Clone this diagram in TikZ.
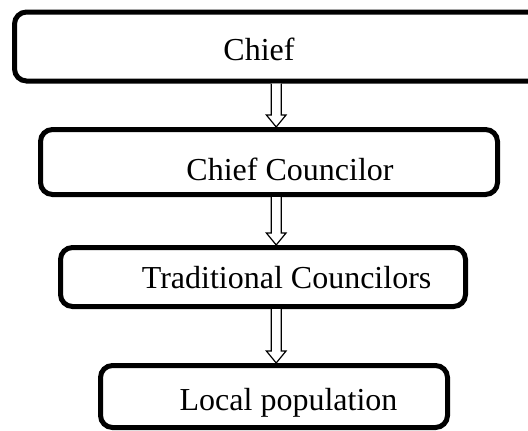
\documentclass[tikz,border=0pt]{standalone}
\usepackage{fontspec}
\setmainfont{Liberation Serif}
\usetikzlibrary{calc}
\tikzset{
  boxnode/.style={draw=black, line width=5pt, rounded corners=12pt, fill=none, inner sep=0pt, outer sep=0.5\pgflinewidth},
  labeltext/.style={inner sep=0pt, anchor=base, font=\fontsize{32}{38}\selectfont},
  hollowarrow/.style={draw=black, line width=1.2pt, line join=miter, fill=white},
}
\begin{document}
\begin{tikzpicture}[x=1pt, y=-1pt]
\useasboundingbox (0,0) rectangle (528,431);
\clip (0,0) rectangle (528,431);
\node[boxnode, minimum width=530.5pt, minimum height=69pt] (b1) at (279.75,46.5) {};
\node[boxnode, minimum width=457pt, minimum height=65pt] (b2) at (269,162) {};
\node[boxnode, minimum width=405pt, minimum height=59pt] (b3) at (263,277) {};
\node[boxnode, minimum width=347pt, minimum height=62pt] (b4) at (274,396.5) {};
\node[labeltext] (t1) at (259,60.6) {Chief};
\node[labeltext] (t2) at (290,180) {Chief Councilor};
\node[labeltext] (t3) at (286.6,288.4) {Traditional Councilors};
\node[labeltext] (t4) at (288.5,410) {Local population};
\coordinate (ax) at (276.2,0);
\foreach \s/\e in {b1/b2, b2/b3, b3/b4}{
  \draw[hollowarrow] let \p1=(ax |- \s.south), \p2=(ax |- \e.north) in
    (\x1-5pt,\y1) -- (\x1-5pt,\y2+12pt) -- (\x1-9.8pt,\y2+12pt) -- (\x1,\y2)
    -- (\x1+9.8pt,\y2+12pt) -- (\x1+5pt,\y2+12pt) -- (\x1+5pt,\y1);
}
\end{tikzpicture}
\end{document}
